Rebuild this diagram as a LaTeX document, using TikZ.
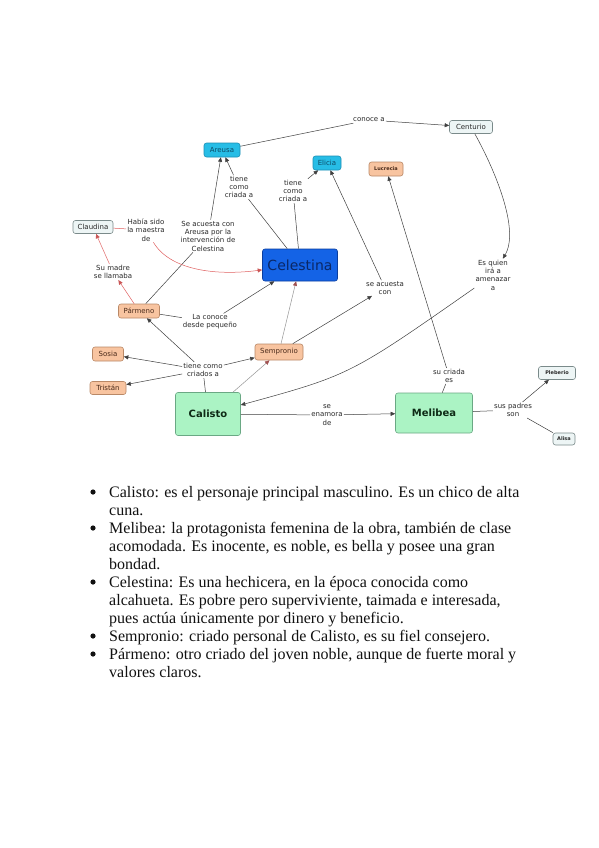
\documentclass[tikz,border=0pt]{standalone}
\usepackage{fontspec}
\setmainfont{Liberation Serif}
\newfontfamily\dv{DejaVu Sans}
\usetikzlibrary{arrows.meta}
\definecolor{cyanF}{HTML}{27BDE6}
\definecolor{cyanD}{HTML}{1C8FB5}
\definecolor{cyanT}{HTML}{0C4A66}
\definecolor{peachF}{HTML}{F8C4A0}
\definecolor{peachD}{HTML}{B98866}
\definecolor{peachT}{HTML}{4A2A1A}
\definecolor{lightF}{HTML}{EDF5F5}
\definecolor{lightD}{HTML}{7A8A8A}
\definecolor{blueF}{HTML}{1463E6}
\definecolor{blueD}{HTML}{0B3E9E}
\definecolor{blueT}{HTML}{0A2766}
\definecolor{greenF}{HTML}{ABF3C4}
\definecolor{greenD}{HTML}{6AA884}
\definecolor{greenT}{HTML}{0E2A16}
\definecolor{lineC}{HTML}{404040}
\definecolor{redC}{HTML}{E06060}
\definecolor{greyC}{HTML}{959595}
\definecolor{greyA}{HTML}{A05050}
\definecolor{labT}{HTML}{2A2A2A}
\definecolor{txtC}{HTML}{111111}
\tikzset{
  base/.style={rounded corners=2.5pt, draw, line width=0.6pt, inner sep=1pt,
    font=\dv\fontsize{7}{8}\selectfont, align=center},
  cyanbox/.style={base, fill=cyanF, draw=cyanD, text=cyanT},
  peachbox/.style={base, fill=peachF, draw=peachD, text=peachT},
  lightbox/.style={base, fill=lightF, draw=lightD, text=labT},
  bluebox/.style={base, fill=blueF, draw=blueD, text=blueT, font=\dv\fontsize{14}{16}\selectfont},
  greenbox/.style={base, fill=greenF, draw=greenD, text=greenT, font=\dv\bfseries\fontsize{10}{12}\selectfont},
  smallbold/.style={font=\dv\bfseries\fontsize{5}{6}\selectfont},
  lab/.style={inner sep=1pt, align=center, text=labT, font=\dv\fontsize{7}{8.3}\selectfont},
  ln/.style={draw=lineC, line width=0.5pt},
  arr/.style={-{Triangle[length=4.5pt,width=4pt]}},
  rln/.style={draw=redC, line width=0.5pt},
  rarr/.style={-{Triangle[length=4.5pt,width=4pt,color=redC!90!black]}},
  gln/.style={draw=greyC, line width=0.5pt},
  garr/.style={-{Triangle[length=4.5pt,width=4pt,color=greyA]}},
  txt/.style={anchor=base west, inner sep=0pt, text=txtC, font=\fontsize{16}{18}\selectfont},
  bul/.style={circle, fill=txtC, inner sep=0pt, minimum size=5.2pt}
}
\begin{document}
\begin{tikzpicture}[x=1pt,y=-1pt]
\useasboundingbox[fill=white] (0,0) rectangle (599,848);
% concept nodes
\node[cyanbox, minimum width=36pt, minimum height=14pt] (areusa) at (222,150) {Areusa};
\node[cyanbox, minimum width=28pt, minimum height=14pt] (elicia) at (327,163) {Elicia};
\node[peachbox, smallbold, minimum width=34pt, minimum height=14pt] (lucrecia) at (386,169) {Lucrecia};
\node[lightbox, minimum width=43pt, minimum height=13pt] (centurio) at (471,127) {Centurio};
\node[lightbox, minimum width=40pt, minimum height=13pt] (claudina) at (93,227) {Claudina};
\node[bluebox, minimum width=75pt, minimum height=32pt] (celestina) at (300,265) {Celestina};
\node[peachbox, minimum width=41pt, minimum height=14pt] (parmeno) at (139,311) {Pármeno};
\node[peachbox, minimum width=31pt, minimum height=14pt] (sosia) at (108,354) {Sosia};
\node[peachbox, minimum width=36pt, minimum height=13pt] (tristan) at (108,388) {Tristán};
\node[peachbox, minimum width=48pt, minimum height=16pt] (sempronio) at (279,352) {Sempronio};
\node[greenbox, minimum width=65pt, minimum height=43pt] (calisto) at (208,414) {Calisto};
\node[greenbox, minimum width=77pt, minimum height=40pt] (melibea) at (434,413) {Melibea};
\node[lightbox, smallbold, minimum width=37pt, minimum height=13pt] (pleberio) at (557,373) {Pleberio};
\node[lightbox, smallbold, minimum width=22pt, minimum height=12pt] (alisa) at (564,439) {Alisa};
% linking phrases
\node[lab] (conoce) at (369,120) {conoce a};
\node[lab] (tcriada1) at (239,187) {tiene\\como\\criada a};
\node[lab] (tcriada2) at (293,191) {tiene\\como\\criada a};
\node[lab] (seacareusa) at (208,236) {Se acuesta con\\Areusa por la\\intervención de\\Celestina};
\node[lab] (maestra) at (146,230) {Había sido\\la maestra\\de};
\node[lab] (madre) at (113,272) {Su madre\\se llamaba};
\node[lab] (conoce2) at (210,322) {La conoce\\desde pequeño};
\node[lab] (criados) at (203,370) {tiene como\\criados a};
\node[lab] (seacuesta) at (385,288) {se acuesta\\con};
\node[lab] (amenazar) at (493,275) {Es quien\\irá a\\amenazar\\a};
\node[lab] (sucriada) at (449,376) {su criada\\es};
\node[lab] (enamora) at (327,415) {se\\enamora\\de};
\node[lab] (padres) at (513,410) {sus padres\\son};
% connectors
\draw[ln] (areusa) -- (conoce);
\draw[ln,arr] (conoce) -- (centurio);
\draw[ln] (celestina) -- (tcriada1);
\draw[ln,arr] (tcriada1) -- (areusa);
\draw[ln] (celestina) -- (tcriada2);
\draw[ln,arr] (tcriada2) -- (elicia);
\draw[ln] (parmeno) -- (seacareusa);
\draw[ln,arr] (seacareusa) -- (areusa);
\draw[rln] (claudina) -- (maestra);
\draw[rln,rarr] (maestra) .. controls (170,270) and (215,276) .. (celestina);
\draw[rln,rarr] (parmeno) -- (madre);
\draw[rln,rarr] (madre) -- (claudina);
\draw[ln] (parmeno) -- (conoce2);
\draw[ln,arr] (conoce2) -- (celestina);
\draw[ln] (calisto) -- (criados);
\draw[ln,arr] (criados) -- (parmeno);
\draw[ln,arr] (criados) -- (sosia);
\draw[ln,arr] (criados) -- (tristan);
\draw[ln,arr] (criados) -- (sempronio);
\draw[gln,garr] (calisto) -- (sempronio);
\draw[gln,garr] (sempronio) -- (celestina);
\draw[ln,arr] (sempronio) -- (seacuesta);
\draw[ln,arr] (seacuesta) -- (elicia);
\draw[ln,arr] (centurio) .. controls (495,170) and (520,230) .. (amenazar);
\draw[ln,arr] (amenazar) .. controls (350,375) .. (calisto);
\draw[ln] (calisto) -- (enamora);
\draw[ln,arr] (enamora) -- (melibea);
\draw[ln] (melibea) -- (sucriada);
\draw[ln,arr] (sucriada) -- (lucrecia);
\draw[ln] (melibea) -- (padres);
\draw[ln,arr] (padres) -- (pleberio);
\draw[ln] (padres) -- (alisa);
% bullet list
\node[bul] (b1) at (93,492) {};
\node[txt] (l1) at (109,497) {Calisto: es el personaje principal masculino. Es un chico de alta};
\node[txt] (l2) at (109,515) {cuna.};
\node[bul] (b2) at (93,528) {};
\node[txt] (l3) at (109,533) {Melibea: la protagonista femenina de la obra, también de clase};
\node[txt] (l4) at (109,551) {acomodada. Es inocente, es noble, es bella y posee una gran};
\node[txt] (l5) at (109,569) {bondad.};
\node[bul] (b3) at (93,582) {};
\node[txt] (l6) at (109,587) {Celestina: Es una hechicera, en la época conocida como};
\node[txt] (l7) at (109,605) {alcahueta. Es pobre pero superviviente, taimada e interesada,};
\node[txt] (l8) at (109,623) {pues actúa únicamente por dinero y beneficio.};
\node[bul] (b4) at (93,636) {};
\node[txt] (l9) at (109,641) {Sempronio: criado personal de Calisto, es su fiel consejero.};
\node[bul] (b5) at (93,654) {};
\node[txt] (l10) at (109,659) {Pármeno: otro criado del joven noble, aunque de fuerte moral y};
\node[txt] (l11) at (109,677) {valores claros.};
\end{tikzpicture}
\end{document}
